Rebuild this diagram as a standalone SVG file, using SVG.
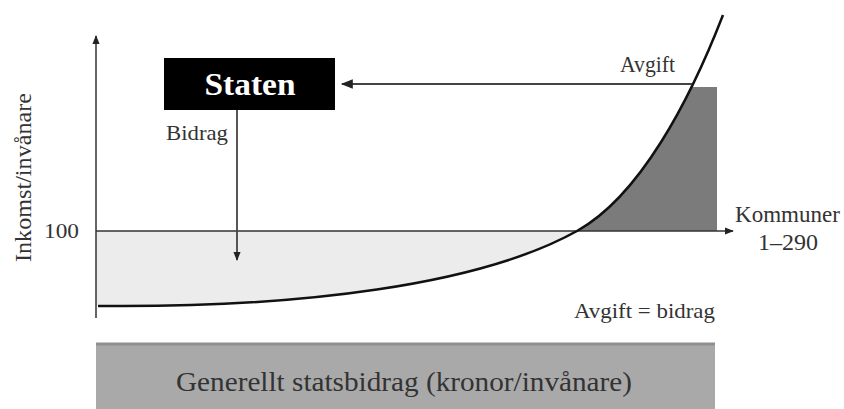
<svg xmlns="http://www.w3.org/2000/svg" width="844" height="409" viewBox="0 0 844 409">
<style>
text{font-family:"Liberation Serif","DejaVu Serif",serif;fill:#333}
.ax{stroke:#333;stroke-width:1.5;fill:none}
.ar{stroke:#444;stroke-width:1.8;fill:none}
</style>
<defs>
<marker id="ah" viewBox="0 0 10 10" refX="9" refY="5" markerWidth="9" markerHeight="9" markerUnits="userSpaceOnUse" orient="auto"><path d="M0,1 L10,5 L0,9 Z" fill="#222"/></marker>
<marker id="ah2" viewBox="0 0 10 10" refX="9" refY="5" markerWidth="14" markerHeight="12" markerUnits="userSpaceOnUse" orient="auto"><path d="M0,1 L10,5 L0,9 Z" fill="#222"/></marker>
<clipPath id="cR"><path d="M577,231 C640,196 690,100 723,15 L800,15 L800,231 Z"/></clipPath>
</defs>
<g id="areas">
<path d="M96,231 L577,231 C480,285 300,308 98,306 L96,306 Z" fill="#ececec"/>
<rect x="560" y="87" width="157" height="144" fill="#7b7b7b" clip-path="url(#cR)"/>
</g>
<g id="axes">
<line class="ax" x1="96" y1="318" x2="96" y2="36" marker-end="url(#ah)"/>
<line class="ax" x1="96" y1="231" x2="733" y2="231" marker-end="url(#ah)"/>
</g>
<g id="curve">
<path d="M98,306 C300,308 480,285 577,231 C640,196 690,100 723,15" fill="none" stroke="#111" stroke-width="2.5"/>
</g>
<g id="staten">
<rect x="164" y="58" width="171" height="52" fill="#000"/>
<text x="250" y="95" text-anchor="middle" font-size="32" font-weight="bold" textLength="91" lengthAdjust="spacingAndGlyphs" style="fill:#fff">Staten</text>
</g>
<g id="connectors">
<line class="ar" x1="692" y1="84" x2="342" y2="84" marker-end="url(#ah2)"/>
<line class="ar" x1="237" y1="110" x2="237" y2="260" marker-end="url(#ah)"/>
</g>
<g id="labels">
<text x="620" y="72" font-size="23" textLength="55" lengthAdjust="spacingAndGlyphs">Avgift</text>
<text x="166" y="140" font-size="21" textLength="62" lengthAdjust="spacingAndGlyphs">Bidrag</text>
<text x="44" y="238" font-size="22" textLength="35" lengthAdjust="spacingAndGlyphs">100</text>
<text x="735" y="222" font-size="23" textLength="105" lengthAdjust="spacingAndGlyphs">Kommuner</text>
<text x="758" y="250" font-size="23" textLength="60" lengthAdjust="spacingAndGlyphs">1–290</text>
<text x="574" y="318" font-size="22" textLength="141" lengthAdjust="spacingAndGlyphs">Avgift = bidrag</text>
<text transform="translate(31,262) rotate(-90)" font-size="23" textLength="169" lengthAdjust="spacingAndGlyphs">Inkomst/invånare</text>
</g>
<g id="generellt">
<rect x="96" y="343" width="619" height="66" fill="#a9a9a9"/>
<line x1="96" y1="344" x2="715" y2="344" stroke="#8f8f8f" stroke-width="3"/>
<text x="176" y="391" font-size="28" textLength="456" lengthAdjust="spacingAndGlyphs">Generellt statsbidrag (kronor/invånare)</text>
</g>
</svg>
